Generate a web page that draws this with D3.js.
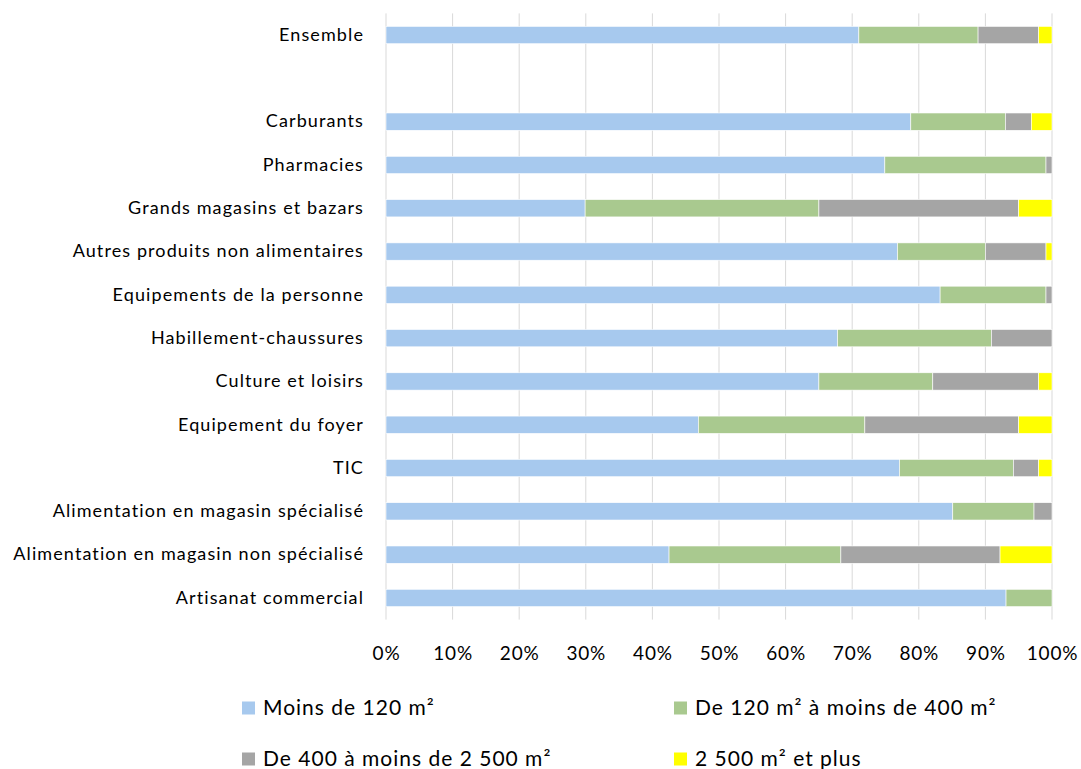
<!DOCTYPE html>
<html><head><meta charset="utf-8">
<script src="https://cdn.jsdelivr.net/npm/d3@7"></script>
<style>
html,body{margin:0;padding:0;background:#fff;}
svg text{font-family:Lato,"Open Sans",sans-serif;fill:#000;}
</style></head>
<body>
<svg id="c" width="1081" height="769"></svg>
<script>
const categories = ["Ensemble", "", "Carburants", "Pharmacies", "Grands magasins et bazars",
  "Autres produits non alimentaires", "Equipements de la personne", "Habillement-chaussures",
  "Culture et loisirs", "Equipement du foyer", "TIC", "Alimentation en magasin spécialisé",
  "Alimentation en magasin non spécialisé", "Artisanat commercial"];
const seriesNames = ["Moins de 120 m²", "De 120 m² à moins de 400 m²", "De 400 à moins de 2 500 m²", "2 500 m² et plus"];
const moins120 = [71.0, null, 78.8, 74.9, 29.9, 76.8, 83.2, 67.8, 65.0, 46.9, 77.1, 85.1, 42.5, 93.1];
const de120a400 = [17.9, null, 14.2, 24.2, 35.1, 13.2, 15.9, 23.1, 17.1, 25.0, 17.1, 12.2, 25.8, 6.9];
const de400a2500 = [9.1, null, 3.9, 0.9, 30.0, 9.1, 0.9, 9.1, 15.9, 23.1, 3.8, 2.7, 23.9, 0];
const plus2500 = [2.0, null, 3.1, 0, 5.0, 0.9, 0, 0, 2.0, 5.0, 2.0, 0, 7.8, 0];
const xTicks = [0, 10, 20, 30, 40, 50, 60, 70, 80, 90, 100];
const colors = ["#a7c9ee", "#a9c98f", "#a5a5a5", "#ffff00"];

const svg = d3.select("#c");
const keys = categories.map((c, i) => i + "|" + c);
const rows = categories.map((c, i) => ({
  key: keys[i], s0: moins120[i] || 0, s1: de120a400[i] || 0, s2: de400a2500[i] || 0, s3: plus2500[i] || 0
}));

const x = d3.scaleLinear().domain([0, 100]).range([386, 1052]);
const y = d3.scaleBand().domain(keys).range([13.4, 619.6]).paddingInner(0.6).paddingOuter(0.3);

// gridlines
svg.append("g").selectAll("line").data(xTicks).join("line")
  .attr("x1", d => x(d)).attr("x2", d => x(d))
  .attr("y1", 13.4).attr("y2", 619.6)
  .attr("stroke", "#d9d9d9").attr("stroke-width", 1);

const stack = d3.stack().keys(["s0", "s1", "s2", "s3"]);
const stacked = stack(rows);
svg.append("g").selectAll("g").data(stacked).join("g")
  .attr("fill", (d, i) => colors[i])
  .selectAll("rect").data(d => d.filter(v => v[1] - v[0] > 0)).join("rect")
  .attr("x", d => x(d[0]))
  .attr("width", d => x(d[1]) - x(d[0]))
  .attr("y", d => y(d.data.key))
  .attr("height", y.bandwidth())
  .attr("stroke", "#fff").attr("stroke-width", 0.6);

// y axis labels
const yAxis = d3.axisLeft(y).tickSize(0).tickPadding(0).tickFormat(k => k.split("|")[1]);
const gy = svg.append("g").attr("transform", "translate(364,0)").call(yAxis);
gy.select(".domain").remove();
gy.selectAll("text").attr("font-size", 18).attr("letter-spacing", "1.1px")
  .style("font-family", "Lato, sans-serif");

// x axis labels
const xAxis = d3.axisBottom(x).tickValues(xTicks).tickSize(0).tickPadding(0).tickFormat(d => d + "%");
const gx = svg.append("g").attr("transform", "translate(0,646)").call(xAxis);
gx.select(".domain").remove();
gx.selectAll("text").attr("font-size", 19).attr("dy", "0.71em").attr("letter-spacing", "0.8px")
  .style("font-family", "Lato, sans-serif");

// legend
const legPos = [[242, 708], [674, 708], [242, 759], [674, 759]];
const leg = svg.append("g").selectAll("g").data(seriesNames).join("g")
  .attr("transform", (d, i) => `translate(${legPos[i][0]},${legPos[i][1]})`);
leg.append("rect").attr("x", 0).attr("y", -6.5).attr("width", 13).attr("height", 13)
  .attr("fill", (d, i) => colors[i]);
leg.append("text").attr("x", 21).attr("y", 0).attr("dy", "0.35em")
  .attr("font-size", 21).attr("letter-spacing", "1px").text(d => d);
</script>
</body></html>
